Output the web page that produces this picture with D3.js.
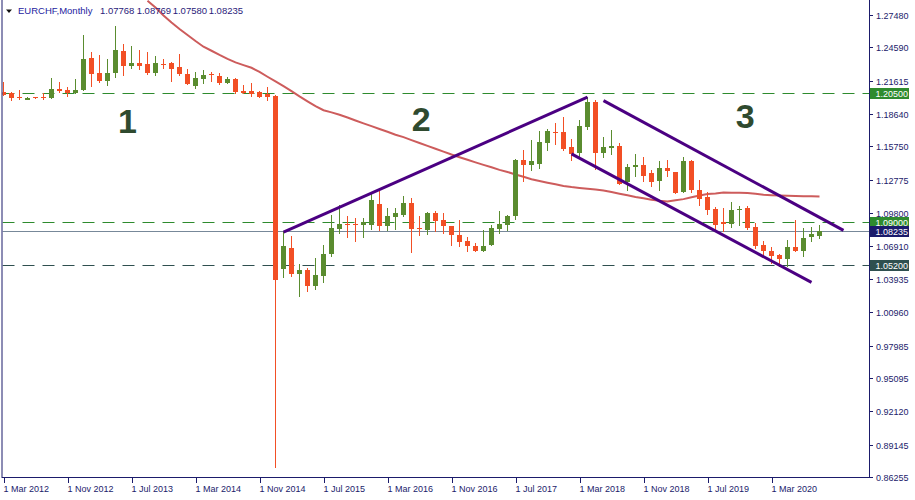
<!DOCTYPE html>
<html><head><meta charset="utf-8">
<script src="https://cdn.jsdelivr.net/npm/d3@7"></script>
<style>html,body{margin:0;padding:0;background:#fff;}svg{display:block;}</style>
</head><body>
<svg id="chart" width="915" height="500"></svg>
<script>
// ---------- data ----------
const symbolTitle = "EURCHF,Monthly";
const headerValues = ["1.07768", "1.08769", "1.07580", "1.08235"];
const startMonth = "2012-03"; // index 0
const opens = [1.2064,1.2050,1.2015,1.2008,1.2012,1.2012,1.2011,1.2088,1.2080,1.2050,
1.2080,1.2365,1.2234,1.2160,1.2228,1.2427,1.2296,1.2323,1.2314,1.2234,
1.2310,1.2323,1.2284,1.2222,1.2118,1.2177,1.2222,1.2204,1.2142,1.2177,
1.2072,1.2071,1.2064,1.2046,1.2029,1.0484,1.0671,1.0434,1.0476,1.0327,
1.0416,1.0612,1.0841,1.0886,1.0886,1.0870,1.0877,1.1064,1.0862,1.0942,
1.0966,1.1070,1.0844,1.0832,1.0981,1.0921,1.0868,1.0788,1.0728,1.0690,
1.0639,1.0692,1.0841,1.0877,1.0951,1.1456,1.1411,1.1420,1.1607,1.1708,
1.1708,1.1569,1.1515,1.1753,1.1973,1.1521,1.1557,1.1581,1.1254,1.1390,
1.1411,1.1337,1.1263,1.1381,1.1346,1.1173,1.1441,1.1188,1.1123,1.1019,
1.0897,1.0883,1.1004,1.1025,1.0856,1.0696,1.0645,1.0606,1.0574,1.0681,
1.0639,1.0764,1.07768];
const highs = [1.2154,1.2064,1.2080,1.2014,1.2018,1.2055,1.2184,1.2154,1.2109,1.2178,
1.2570,1.2416,1.2391,1.2356,1.2650,1.2490,1.2472,1.2436,1.2418,1.2383,
1.2353,1.2332,1.2400,1.2264,1.2240,1.2258,1.2243,1.2228,1.2192,1.2184,
1.2124,1.2139,1.2071,1.2109,1.2035,1.0817,1.0773,1.0526,1.0491,1.0580,
1.0699,1.0966,1.1055,1.0957,1.0936,1.0936,1.1165,1.1204,1.1026,1.1026,
1.1135,1.1115,1.0957,1.0987,1.1001,1.0981,1.0868,1.0921,1.0767,1.0714,
1.0832,1.0877,1.0995,1.0966,1.1465,1.1545,1.1634,1.1714,1.1729,1.1788,
1.1842,1.1640,1.1812,1.2015,1.1991,1.1658,1.1723,1.1610,1.1420,1.1509,
1.1480,1.1361,1.1441,1.1456,1.1350,1.1480,1.1450,1.1277,1.1173,1.1031,
1.1026,1.1075,1.1046,1.1046,1.0892,1.0734,1.0678,1.0618,1.0737,1.0921,
1.0847,1.0856,1.08769];
const lows = [1.2030,1.1990,1.1997,1.1999,1.2005,1.1997,1.2011,1.2059,1.2026,1.2050,
1.2080,1.2118,1.2154,1.2124,1.2198,1.2213,1.2278,1.2267,1.2219,1.2216,
1.2278,1.2160,1.2211,1.2136,1.2100,1.2145,1.2163,1.2133,1.2139,1.2055,
1.2050,1.2026,1.2015,1.1990,0.8713,1.0410,1.0422,1.0238,1.0282,1.0304,
1.0366,1.0594,1.0803,1.0764,1.0734,1.0764,1.0838,1.0826,1.0832,1.0841,
1.0957,1.0630,1.0788,1.0794,1.0823,1.0803,1.0692,1.0683,1.0639,1.0639,
1.0639,1.0692,1.0803,1.0832,1.0928,1.1263,1.1361,1.1387,1.1545,1.1595,
1.1539,1.1450,1.1491,1.1732,1.1373,1.1480,1.1509,1.1240,1.1182,1.1313,
1.1263,1.1218,1.1182,1.1313,1.1158,1.1170,1.1173,1.1055,1.0972,1.0832,
1.0817,1.0853,1.0877,1.0838,1.0669,1.0594,1.0535,1.0511,1.0505,1.0639,
1.0600,1.0728,1.07580];
const closes = [1.2035,1.2011,1.2010,1.2010,1.2010,1.2009,1.2089,1.2070,1.2053,1.2080,
1.2356,1.2225,1.2160,1.2234,1.2436,1.2296,1.2323,1.2296,1.2234,1.2323,
1.2305,1.2270,1.2222,1.2136,1.2186,1.2213,1.2211,1.2139,1.2177,1.2064,
1.2069,1.2044,1.2017,1.2017,1.0380,1.0684,1.0440,1.0476,1.0327,1.0431,
1.0618,1.0850,1.0886,1.0877,1.0877,1.0897,1.1100,1.0862,1.0957,1.0984,
1.1070,1.0841,1.0838,1.0981,1.0912,1.0862,1.0781,1.0719,1.0683,1.0639,
1.0690,1.0847,1.0886,1.0957,1.1456,1.1411,1.1441,1.1619,1.1714,1.1693,
1.1554,1.1512,1.1759,1.1973,1.1521,1.1569,1.1581,1.1242,1.1390,1.1411,
1.1307,1.1254,1.1381,1.1352,1.1164,1.1441,1.1182,1.1105,1.1010,1.0877,
1.0883,1.1010,1.1019,1.0847,1.0690,1.0645,1.0600,1.0574,1.0678,1.0645,
1.0758,1.0794,1.08235];
// moving average (first value belongs to candle index maStart)
const maStart = 18;
const maValues = [1.2875,1.2814,1.2744,1.2681,1.2623,1.2570,1.2516,1.2465,1.2429,1.2392,
1.2357,1.2325,1.2301,1.2277,1.2240,1.2197,1.2155,1.2113,1.2069,1.2022,
1.1978,1.1934,1.1898,1.1879,1.1858,1.1833,1.1807,1.1781,1.1756,1.1731,
1.1706,1.1680,1.1658,1.1632,1.1606,1.1580,1.1555,1.1529,1.1503,1.1479,
1.1456,1.1433,1.1411,1.1389,1.1366,1.1347,1.1325,1.1304,1.1282,1.1266,
1.1251,1.1237,1.1223,1.1213,1.1205,1.1198,1.1191,1.1182,1.1168,1.1153,
1.1139,1.1124,1.1113,1.1100,1.1090,1.1084,1.1094,1.1105,1.1121,1.1138,
1.1150,1.1156,1.1164,1.1162,1.1161,1.1160,1.1154,1.1144,1.1140,1.1137,
1.1135,1.1133,1.1131,1.1130,1.1129];
// y-axis ticks
const yTicks = [1.27480,1.24590,1.21615,1.18640,1.15750,1.12775,1.09800,1.06910,1.03935,1.00960,0.97985,0.95095,0.92120,0.89145,0.86255];
// x-axis ticks (candle index, label)
const xTickIdx = [0,8,16,24,32,40,48,56,64,72,80,88,96];
const xTickLabels = ["1 Mar 2012","1 Nov 2012","1 Jul 2013","1 Mar 2014","1 Nov 2014","1 Jul 2015","1 Mar 2016","1 Nov 2016","1 Jul 2017","1 Mar 2018","1 Nov 2018","1 Jul 2019","1 Mar 2020"];
// horizontal levels
const levelPrices = [1.20500, 1.09000, 1.05200];
const levelLabels = ["1.20500", "1.09000", "1.05200"];
const bidPrice = 1.08235, bidLabel = "1.08235";
// trend lines: [startIndex, startPrice, endIndex, endPrice]
const trendLines = [[35,1.0811,73,1.2015],[75,1.1984,105,1.0826],[71,1.1509,101,1.0362]];
// wave labels: [text, index, baseline price]
const waveLabels = [["1",15.5,1.1695],["2",52.2,1.1713],["3",92.7,1.1740]];

// ---------- drawing ----------
const svg = d3.select("#chart");
const plotL = 2.5, plotR = 869.5, plotT = 0, plotB = 477.5;
const x = d3.scaleLinear().domain([0, 102]).range([3.5, 819.5]);
const y = d3.scaleLinear().domain([0.86255, 1.27480]).range([477, 15]);

const NAVY = "#1b1b6b", BULL = "#5a8c2f", BEAR = "#f24f25";

svg.append("rect").attr("width",915).attr("height",500).attr("fill","#fff");
svg.append("defs").append("clipPath").attr("id","plotclip")
  .append("rect").attr("x",plotL).attr("y",plotT).attr("width",plotR-plotL).attr("height",plotB-plotT);
const plot = svg.append("g").attr("clip-path","url(#plotclip)");

// level lines
const levelColors = ["#2e8b2e","#2e8b2e","#2f4f4f"];
levelPrices.forEach((p,i)=>{
  const yy = Math.round(y(p)) + 0.5;
  plot.append("line").attr("x1",plotL).attr("x2",plotR).attr("y1",yy).attr("y2",yy)
    .attr("stroke",levelColors[i]).attr("stroke-width",1).attr("stroke-dasharray","12,8");
});
{
  const yy = Math.round(y(bidPrice)) + 0.5;
  plot.append("line").attr("x1",plotL).attr("x2",plotR).attr("y1",yy).attr("y2",yy)
    .attr("stroke","#778899").attr("stroke-width",1);
}

// header
const hdr = svg.append("g");
hdr.append("path").attr("d","M6,9.5 L12,9.5 L9,13 Z").attr("fill","#111");
hdr.append("text").attr("x",18).attr("y",14).attr("font-family","Liberation Sans, Arial, sans-serif")
  .attr("font-size",9.5).attr("fill","#1e22a0").text(symbolTitle);
const hx = [100,136.7,172.7,208.7];
headerValues.forEach((v,i)=>hdr.append("text").attr("x",hx[i]).attr("y",14)
  .attr("font-family","Liberation Sans, Arial, sans-serif").attr("font-size",9.5).attr("fill","#2a1a7a").text(v));

// wave labels
waveLabels.forEach(d=>{
  plot.append("text").attr("x",x(d[1])).attr("y",y(d[2])).attr("text-anchor","middle")
    .attr("font-family","Liberation Sans, Arial, sans-serif").attr("font-weight","bold")
    .attr("font-size",34).attr("fill","#2f4a2f").text(d[0]);
});

// moving average
const maData = maValues.map((v,i)=>[maStart+i, v]);
plot.append("path").datum(maData)
  .attr("d", d3.line().x(d=>x(d[0])).y(d=>y(d[1])))
  .attr("fill","none").attr("stroke","#cd5c5c").attr("stroke-width",2);

// candles
const candles = opens.map((o,i)=>({i,o,h:highs[i],l:lows[i],c:closes[i]}));
const cg = plot.append("g");
candles.forEach(d=>{
  const col = d.c >= d.o ? BULL : BEAR;
  const cx = x(d.i);
  cg.append("line").attr("x1",cx).attr("x2",cx)
    .attr("y1",Math.round(y(d.h))).attr("y2",Math.round(y(d.l))+1)
    .attr("stroke",col).attr("stroke-width",1);
  const yTop = Math.round(y(Math.max(d.o,d.c)));
  const yBot = Math.round(y(Math.min(d.o,d.c)));
  cg.append("rect").attr("x",cx-2.5).attr("y",yTop).attr("width",5)
    .attr("height",Math.max(1,yBot-yTop)+ (yBot-yTop<1?1:0))
    .attr("fill",col);
});

// trend lines
trendLines.forEach(t=>{
  plot.append("line").attr("x1",x(t[0])).attr("y1",y(t[1])).attr("x2",x(t[2])).attr("y2",y(t[3]))
    .attr("stroke","#4b0082").attr("stroke-width",3).attr("stroke-linecap","butt");
});

// frame
svg.append("line").attr("x1",2).attr("x2",2).attr("y1",0).attr("y2",478).attr("stroke",NAVY);
svg.append("line").attr("x1",869.5).attr("x2",869.5).attr("y1",0).attr("y2",478).attr("stroke",NAVY);
svg.append("line").attr("x1",2).attr("x2",870).attr("y1",477.5).attr("y2",477.5).attr("stroke",NAVY);

// y axis
const font = "Liberation Sans, Arial, sans-serif";
yTicks.forEach(t=>{
  const yy = Math.round(y(t)) + 0.5;
  svg.append("line").attr("x1",869.5).attr("x2",873).attr("y1",yy).attr("y2",yy).attr("stroke",NAVY);
  svg.append("text").attr("x",876).attr("y",yy+3.3).attr("font-family",font).attr("font-size",9)
    .attr("fill",NAVY).text(t.toFixed(5));
});
// price boxes
const boxData = [[levelPrices[0],levelLabels[0],"#2e8b2e"],[levelPrices[1],levelLabels[1],"#2e8b2e"],
  [bidPrice,bidLabel,"#1b1b6b"],[levelPrices[2],levelLabels[2],"#2f4f4f"]];
boxData.forEach(b=>{
  const yy = Math.round(y(b[0]));
  svg.append("rect").attr("x",870).attr("y",yy-5).attr("width",39).attr("height",11).attr("fill",b[2]);
  svg.append("text").attr("x",875.5).attr("y",yy+3.8).attr("font-family",font).attr("font-size",9)
    .attr("fill","#fff").text(b[1]);
});

// x axis
xTickIdx.forEach((ti,k)=>{
  const xx = Math.round(x(ti)) + 0.5;
  svg.append("line").attr("x1",xx).attr("x2",xx).attr("y1",477.5).attr("y2",483).attr("stroke",NAVY);
  svg.append("text").attr("x",xx-1).attr("y",491.5).attr("font-family",font).attr("font-size",9)
    .attr("fill",NAVY).text(xTickLabels[k]);
});
</script>
</body></html>
